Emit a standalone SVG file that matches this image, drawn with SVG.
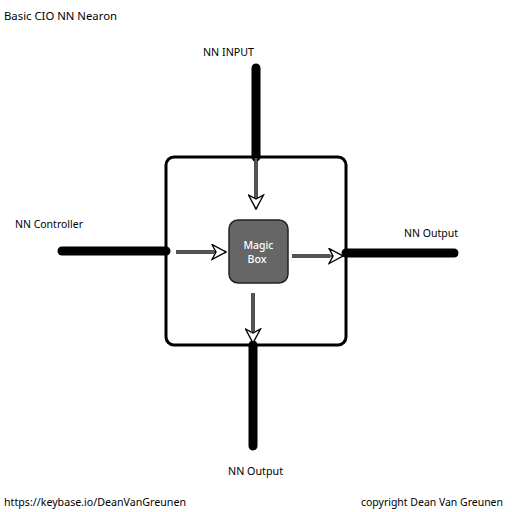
<svg xmlns="http://www.w3.org/2000/svg" width="512" height="512" viewBox="0 0 512 512">
<style>
text{font-family:"Noto Sans","Open Sans","Liberation Sans",sans-serif;font-size:11.5px;fill:#000}
.thick{stroke:#000;stroke-width:9;stroke-linecap:round;fill:none}
.shaft{stroke:#555;stroke-width:2.5;fill:none}
.shaftedge{stroke:#111;stroke-width:3.5;fill:none}
</style>
<defs>
<marker id="arr" viewBox="0 0 16 17" refX="15" refY="8.5" markerWidth="16" markerHeight="17" markerUnits="userSpaceOnUse" orient="auto">
<path d="M1,1 L15,8.5 L1,16 L5,8.5 Z" fill="#fff" stroke="#000" stroke-width="1.4" stroke-linejoin="miter"/>
</marker>
</defs>
<rect width="512" height="512" fill="#fff"/>
<text x="4" y="20" textLength="113" lengthAdjust="spacingAndGlyphs">Basic CIO NN Nearon</text>
<g id="outer">
<rect x="166" y="157" width="180" height="188" rx="8" ry="8" fill="#fff" stroke="#000" stroke-width="3"/>
</g>
<g id="connectors">
<line class="thick" x1="256" y1="68" x2="256" y2="157"/>
<line class="thick" x1="62" y1="251" x2="166" y2="251"/>
<line class="thick" x1="346" y1="253" x2="454" y2="253"/>
<line class="thick" x1="253" y1="345" x2="253" y2="446"/>
<line class="shaftedge" x1="256" y1="158" x2="256" y2="198"/>
<line class="shaft" x1="256" y1="158" x2="256" y2="209" marker-end="url(#arr)"/>
<line class="shaftedge" x1="176" y1="252" x2="214" y2="252"/>
<line class="shaft" x1="176" y1="252" x2="226" y2="252" marker-end="url(#arr)"/>
<line class="shaftedge" x1="292" y1="256" x2="330" y2="256"/>
<line class="shaft" x1="292" y1="256" x2="343" y2="256" marker-end="url(#arr)"/>
<line class="shaftedge" x1="253" y1="293" x2="253" y2="331"/>
<line class="shaft" x1="253" y1="293" x2="253" y2="343" marker-end="url(#arr)"/>
</g>
<g id="magic-box">
<rect x="229" y="220" width="59" height="63" rx="9" ry="9" fill="#666" stroke="#222" stroke-width="1.5"/>
<text x="258.5" y="249" text-anchor="middle" style="fill:#fff;font-weight:500" textLength="30" lengthAdjust="spacingAndGlyphs">Magic</text>
<text x="257" y="263" text-anchor="middle" style="fill:#fff;font-weight:500" textLength="19" lengthAdjust="spacingAndGlyphs">Box</text>
</g>
<g id="nn-input">
<text x="203" y="56" textLength="51" lengthAdjust="spacingAndGlyphs">NN INPUT</text>
</g>
<g id="nn-controller">
<text x="15" y="228" textLength="68" lengthAdjust="spacingAndGlyphs">NN Controller</text>
</g>
<g id="nn-output-right">
<text x="404" y="237" textLength="54" lengthAdjust="spacingAndGlyphs">NN Output</text>
</g>
<g id="nn-output-bottom">
<text x="228" y="475" textLength="55" lengthAdjust="spacingAndGlyphs">NN Output</text>
</g>
<text x="4" y="506" textLength="182" lengthAdjust="spacingAndGlyphs">https://keybase.io/DeanVanGreunen</text>
<text x="361" y="506" textLength="142" lengthAdjust="spacingAndGlyphs">copyright Dean Van Greunen</text>
</svg>
